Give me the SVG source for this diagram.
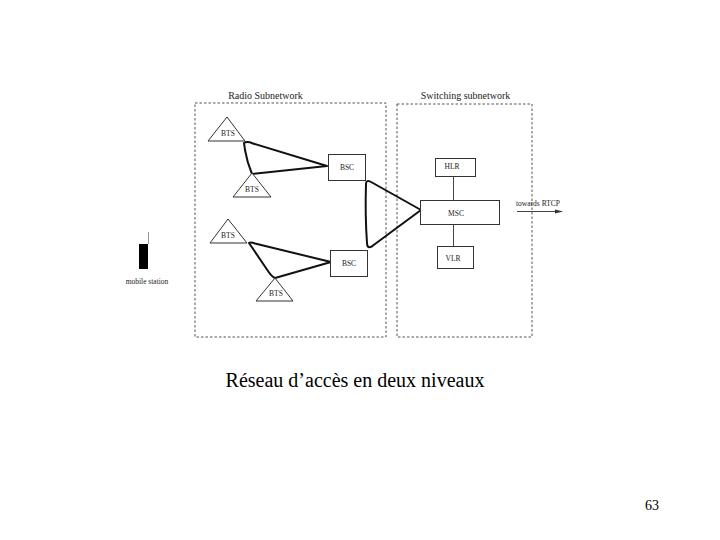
<svg xmlns="http://www.w3.org/2000/svg" width="720" height="540" viewBox="0 0 720 540">
<style>
.bg{fill:#fff}
.zone{fill:none;stroke:#555;stroke-width:1;stroke-dasharray:2.500 2}
.node{fill:#fff;stroke:#333;stroke-width:1}
.link{fill:none;stroke:#111;stroke-width:2;stroke-linejoin:round}
.thin{fill:none;stroke:#444;stroke-width:1}
text{font-family:"Liberation Serif","Times New Roman",serif;fill:#222;text-anchor:middle}
.s{font-size:7.500px}
.h{font-size:10px}
.cap{font-size:20px;fill:#000}
</style>
<defs>
<marker id="arr" markerWidth="8" markerHeight="5" refX="7" refY="2.500" orient="auto" markerUnits="userSpaceOnUse"><path d="M0 0.500L8 2.500L0 4.500z" fill="#333"/></marker>
</defs>
<rect class="bg" width="720" height="540"/>
<g id="zones">
<rect class="zone" x="195" y="103" width="191" height="234"/>
<rect class="zone" x="397" y="104" width="135" height="233"/>
<text class="h" x="265.500" y="99">Radio Subnetwork</text>
<text class="h" x="465.500" y="99">Switching subnetwork</text>
</g>
<g id="connectors">
<path class="link" d="M244 143Q247 141 253 143.500L327 166L252 174Q247 162 245 150Q244.500 146 244 143Z"/>
<path class="link" d="M249 243Q251 242 255 243.500L331 262L275 278Q272 277 268 271Z"/>
<path class="link" d="M366 184Q366 179 372 182.500L421 210L375 244Q367 251 367 243Q365 215 366 184Z"/>
<path class="thin" d="M453.500 176V200M453.500 224V246"/>
<path class="thin" d="M517 211.500H562" marker-end="url(#arr)"/>
</g>
<g id="bts1"><path class="node" d="M227 117L245 141H208Z"/><text class="s" x="228" y="136">BTS</text></g>
<g id="bts2"><path class="node" d="M252 173L271 197H233Z"/><text class="s" x="252" y="192">BTS</text></g>
<g id="bts3"><path class="node" d="M228 219L247 243H210Z"/><text class="s" x="228" y="238">BTS</text></g>
<g id="bts4"><path class="node" d="M275 278L293 301H256Z"/><text class="s" x="276" y="296">BTS</text></g>
<g id="bsc1"><rect class="node" x="328.500" y="154.500" width="37" height="26"/><text class="s" x="347" y="170">BSC</text></g>
<g id="bsc2"><rect class="node" x="330.500" y="250.500" width="37" height="26"/><text class="s" x="349" y="266">BSC</text></g>
<g id="hlr"><rect class="node" x="435.500" y="158.500" width="40" height="18"/><text class="s" x="452" y="169">HLR</text></g>
<g id="msc"><rect class="node" x="420.500" y="200.500" width="79" height="24"/><text class="s" x="456" y="216">MSC</text></g>
<g id="vlr"><rect class="node" x="437.500" y="246.500" width="36" height="22"/><text class="s" x="453" y="261">VLR</text></g>
<text class="s" x="538" y="206">towards RTCP</text>
<g id="mobile">
<path d="M148.500 232V244" stroke="#999" stroke-width="1" fill="none"/>
<rect x="139" y="244" width="9" height="25" fill="#000"/>
<text class="s" x="147" y="284">mobile station</text>
</g>
<text class="cap" x="355" y="387">Réseau d’accès en deux niveaux</text>
<text x="652" y="510" style="font-size:14px;fill:#000">63</text>
</svg>
